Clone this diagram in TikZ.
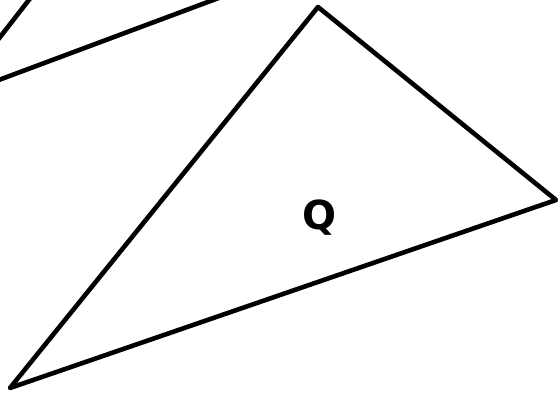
\documentclass[tikz,border=0pt]{standalone}
\usepackage{fontspec}
\setsansfont{DejaVu Sans}
\usetikzlibrary{calc}

\begin{document}
\begin{tikzpicture}[
            x=1pt, y=-1pt,
            edge/.style={line width=4.6pt, line join=round, line cap=round},
            lbl/.style={font=\sffamily\bfseries\fontsize{40}{44}\selectfont},
        ]
            \useasboundingbox (0,0) rectangle (558,395);
            \clip (0,0) rectangle (558,395);
            % triangle Q
            \coordinate (top) at (318,7);
            \coordinate (right) at (556,200);
            \coordinate (left) at (10,388);
            \draw[edge] (top) -- (right) -- (left) -- cycle;
            \node[lbl] (q) at (320,218) {Q};
            % cut-off neighbour at the corner
            \coordinate (a1) at (-10,50);
            \coordinate (a2) at (39,-13);
            \coordinate (b1) at (-20,87);
            \coordinate (b2) at (240,-10);
            \draw[edge] (a1) -- (a2);
            \draw[edge] (b1) -- (b2);
        \end{tikzpicture}
\end{document}
